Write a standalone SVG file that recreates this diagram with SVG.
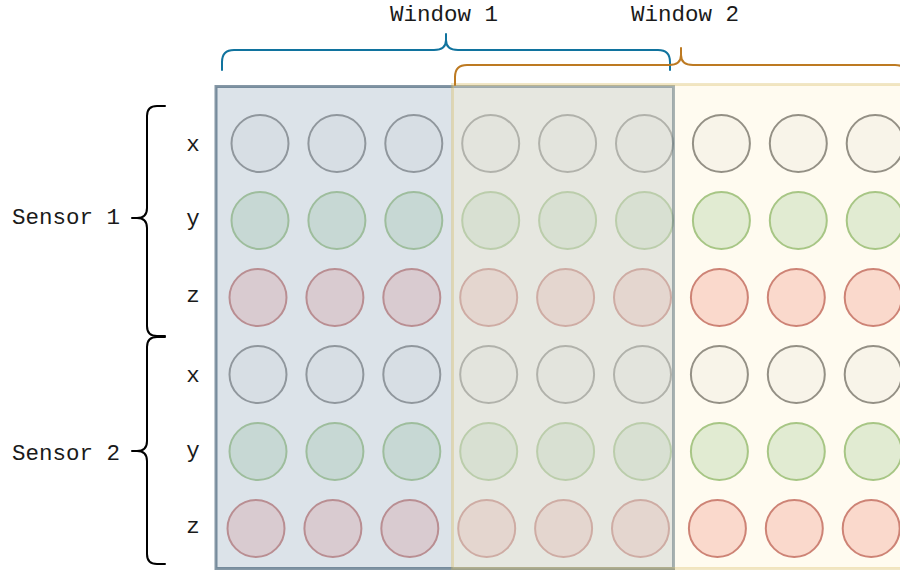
<svg xmlns="http://www.w3.org/2000/svg" width="900" height="571" viewBox="0 0 900 571">
<style>
text{font-family:"Liberation Mono","Courier New",monospace;font-size:22.5px;fill:#1a1a1a}
.lbl{text-anchor:middle}
circle{stroke-width:2}
.g{fill:#f5f5f5;stroke:#666666}
.gr{fill:#d5e8d4;stroke:#82b366}
.r{fill:#f8cecc;stroke:#b85450}
.w1{fill:#bac8d3;fill-opacity:0.5;stroke:#23445d;stroke-opacity:0.55;stroke-width:3}
.w2{fill:#fff2cc;fill-opacity:0.3;stroke:#d6b656;stroke-opacity:0.33;stroke-width:3}
.br{fill:none;stroke-width:2;stroke-linecap:round;stroke-linejoin:round}
</style>
<rect width="900" height="571" fill="#ffffff"/>
<g id="circles">
<g id="row1">
<circle class="g" cx="260" cy="143.5" r="28.5"/><circle class="g" cx="336.9" cy="143.5" r="28.5"/><circle class="g" cx="413.8" cy="143.5" r="28.5"/><circle class="g" cx="490.7" cy="143.5" r="28.5"/><circle class="g" cx="567.6" cy="143.5" r="28.5"/><circle class="g" cx="644.5" cy="143.5" r="28.5"/><circle class="g" cx="721.4" cy="143.5" r="28.5"/><circle class="g" cx="798.3" cy="143.5" r="28.5"/><circle class="g" cx="875.2" cy="143.5" r="28.5"/>
</g>
<g id="row2">
<circle class="gr" cx="260" cy="220.5" r="28.5"/><circle class="gr" cx="336.9" cy="220.5" r="28.5"/><circle class="gr" cx="413.8" cy="220.5" r="28.5"/><circle class="gr" cx="490.7" cy="220.5" r="28.5"/><circle class="gr" cx="567.6" cy="220.5" r="28.5"/><circle class="gr" cx="644.5" cy="220.5" r="28.5"/><circle class="gr" cx="721.4" cy="220.5" r="28.5"/><circle class="gr" cx="798.3" cy="220.5" r="28.5"/><circle class="gr" cx="875.2" cy="220.5" r="28.5"/>
</g>
<g id="row3">
<circle class="r" cx="258" cy="297.5" r="28.5"/><circle class="r" cx="334.9" cy="297.5" r="28.5"/><circle class="r" cx="411.8" cy="297.5" r="28.5"/><circle class="r" cx="488.7" cy="297.5" r="28.5"/><circle class="r" cx="565.6" cy="297.5" r="28.5"/><circle class="r" cx="642.5" cy="297.5" r="28.5"/><circle class="r" cx="719.4" cy="297.5" r="28.5"/><circle class="r" cx="796.3" cy="297.5" r="28.5"/><circle class="r" cx="873.2" cy="297.5" r="28.5"/>
</g>
<g id="row4">
<circle class="g" cx="258" cy="374.5" r="28.5"/><circle class="g" cx="334.9" cy="374.5" r="28.5"/><circle class="g" cx="411.8" cy="374.5" r="28.5"/><circle class="g" cx="488.7" cy="374.5" r="28.5"/><circle class="g" cx="565.6" cy="374.5" r="28.5"/><circle class="g" cx="642.5" cy="374.5" r="28.5"/><circle class="g" cx="719.4" cy="374.5" r="28.5"/><circle class="g" cx="796.3" cy="374.5" r="28.5"/><circle class="g" cx="873.2" cy="374.5" r="28.5"/>
</g>
<g id="row5">
<circle class="gr" cx="258" cy="451.5" r="28.5"/><circle class="gr" cx="334.9" cy="451.5" r="28.5"/><circle class="gr" cx="411.8" cy="451.5" r="28.5"/><circle class="gr" cx="488.7" cy="451.5" r="28.5"/><circle class="gr" cx="565.6" cy="451.5" r="28.5"/><circle class="gr" cx="642.5" cy="451.5" r="28.5"/><circle class="gr" cx="719.4" cy="451.5" r="28.5"/><circle class="gr" cx="796.3" cy="451.5" r="28.5"/><circle class="gr" cx="873.2" cy="451.5" r="28.5"/>
</g>
<g id="row6">
<circle class="r" cx="256" cy="528.5" r="28.5"/><circle class="r" cx="332.9" cy="528.5" r="28.5"/><circle class="r" cx="409.8" cy="528.5" r="28.5"/><circle class="r" cx="486.7" cy="528.5" r="28.5"/><circle class="r" cx="563.6" cy="528.5" r="28.5"/><circle class="r" cx="640.5" cy="528.5" r="28.5"/><circle class="r" cx="717.4" cy="528.5" r="28.5"/><circle class="r" cx="794.3" cy="528.5" r="28.5"/><circle class="r" cx="871.2" cy="528.5" r="28.5"/>
</g>
</g>
<g id="window1"><rect class="w1" x="216" y="86.5" width="457.5" height="482"/></g>
<g id="window2"><rect class="w2" x="452.5" y="84.5" width="500" height="484"/></g>
<g id="connectors">
<path id="brace-window1" class="br" stroke="#10739e" d="M222,70 V62 Q222,50 234,50 H434 Q446,50 446,40 V34 M446,40 Q446,50 458,50 H658 Q670,50 670,62 V70"/>
<path id="brace-window2" class="br" stroke="#bd7a22" d="M455,85 V77 Q455,65 467,65 H669 Q681,65 681,55 V48 M681,55 Q681,65 693,65 H895 Q907,65 907,77 V85"/>
<path id="brace-sensor1" class="br" stroke="#000000" d="M165,106 H157 Q147,106 147,116 V208 Q147,218 137,218 H132 M137,218 Q147,218 147,228 V326 Q147,336 157,336 H165"/>
<path id="brace-sensor2" class="br" stroke="#000000" d="M165,337 H157 Q147,337 147,347 V441 Q147,451 137,451 H132 M137,451 Q147,451 147,461 V554 Q147,564 157,564 H165"/>
</g>
<g id="labels">
<text id="t-window1" x="390" y="21">Window 1</text>
<text id="t-window2" x="631" y="21">Window 2</text>
<text id="t-sensor1" x="12" y="224">Sensor 1</text>
<text id="t-sensor2" x="12" y="460">Sensor 2</text>
<text class="lbl" x="193" y="151">x</text>
<text class="lbl" x="193" y="225">y</text>
<text class="lbl" x="193" y="302">z</text>
<text class="lbl" x="193" y="382">x</text>
<text class="lbl" x="193" y="457">y</text>
<text class="lbl" x="193" y="533">z</text>
</g>
</svg>
